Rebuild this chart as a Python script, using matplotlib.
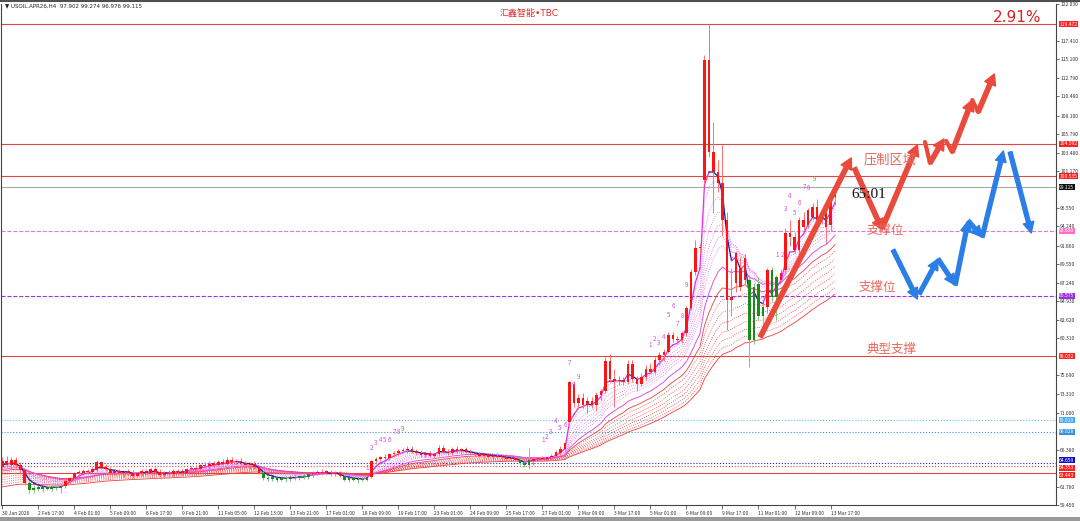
import numpy as np
import matplotlib
matplotlib.use('Agg')
import matplotlib.pyplot as plt
from matplotlib import transforms

plt.rcParams['font.family'] = ['Noto Sans CJK SC', 'DejaVu Sans']

# USOIL.APR26 H4 candles
opens = [64.2, 64.9, 64.5, 65.1, 64.4, 63.8, 62.2, 61.3, 61.6, 61.5,
         61.6, 61.5, 61.7, 61.6, 61.8, 62.4, 62.8, 63.4, 63.5, 63.7,
         63.6, 63.8, 64.8, 64.1, 64.0, 63.5, 63.7, 63.4, 63.6, 63.5,
         63.1, 63.4, 63.7, 63.5, 63.9, 63.6, 63.2, 63.5, 63.3, 63.7,
         63.6, 63.5, 63.9, 64.1, 64.0, 64.4, 64.3, 64.6, 64.5, 64.8,
         64.6, 65.1, 64.8, 65.0, 64.7, 64.4, 64.6, 64.2, 63.5, 62.8,
         62.7, 62.9, 62.6, 62.8, 62.7, 63.0, 62.8, 63.1, 62.9, 63.3,
         63.5, 63.4, 63.6, 63.5, 63.3, 63.5, 63.1, 62.6, 62.8, 62.6,
         62.7, 62.6, 62.9, 64.9, 65.2, 65.4, 65.3, 65.8, 65.9, 66.2,
         66.3, 66.5, 66.1, 66.0, 65.7, 65.9, 65.6, 65.8, 66.6, 66.1,
         65.9, 66.5, 66.2, 66.4, 66.1, 65.9, 65.8, 65.6, 65.8, 65.5,
         65.6, 65.4, 65.5, 65.2, 65.3, 65.1, 64.7, 64.4, 64.9, 65.2,
         65.3, 65.2, 65.4, 65.6, 65.9, 66.5, 69.8, 74.6, 72.2, 72.8,
         72.0, 72.4, 71.9, 73.2, 73.7, 77.4, 75.2, 74.9, 75.1, 74.8,
         77.1, 75.2, 74.6, 75.5, 76.5, 76.1, 77.5, 78.2, 78.6, 80.7,
         80.2, 80.0, 80.9, 84.0, 88.6, 91.5, 100.0, 115.0, 103.5, 101.0,
         99.7, 95.1, 85.1, 87.2, 89.1, 87.6, 87.6, 80.1, 87.0, 83.0,
         84.2, 88.8, 85.4, 87.6, 88.8, 93.4, 92.9, 91.3, 95.0, 94.4,
         95.4, 96.7, 95.05, 95.9, 94.4, 97.902]
highs = [65.4, 65.6, 65.5, 65.4, 64.8, 64.0, 62.4, 61.9, 61.9, 61.8,
         61.9, 62.0, 61.9, 62.1, 62.6, 63.0, 63.6, 63.8, 63.9, 64.0,
         64.2, 65.1, 65.0, 64.6, 64.2, 63.9, 64.0, 63.7, 64.0, 63.8,
         63.6, 63.9, 64.0, 64.1, 64.2, 63.9, 63.7, 63.8, 63.9, 64.0,
         64.0, 64.1, 64.3, 64.5, 64.6, 64.8, 64.9, 65.0, 65.1, 65.2,
         65.4, 65.5, 65.2, 65.3, 65.0, 64.8, 64.9, 64.5, 63.7, 63.1,
         63.0, 63.2, 63.0, 63.1, 63.2, 63.3, 63.2, 63.4, 63.5, 63.7,
         63.8, 63.9, 63.8, 63.8, 63.7, 63.7, 63.3, 63.0, 63.0, 62.9,
         63.0, 63.0, 65.1, 65.5, 65.6, 65.8, 66.0, 66.2, 66.4, 66.6,
         66.8, 66.8, 66.5, 66.3, 66.1, 66.2, 66.0, 66.9, 66.9, 66.4,
         66.7, 66.8, 66.6, 66.7, 66.4, 66.2, 66.1, 66.0, 66.0, 65.8,
         65.9, 65.7, 65.8, 65.6, 65.6, 65.4, 65.0, 66.6, 65.4, 65.5,
         65.6, 65.5, 65.8, 66.3, 66.8, 67.5, 75.0, 74.9, 73.3, 73.4,
         72.9, 73.0, 73.6, 74.0, 77.9, 78.3, 76.5, 75.6, 75.5, 77.6,
         77.6, 75.6, 75.9, 76.9, 77.2, 77.9, 78.6, 78.9, 81.0, 81.0,
         80.6, 81.2, 84.3, 88.9, 92.6, 92.0, 115.7, 119.47, 107.3, 102.5,
         104.4, 96.0, 89.0, 91.2, 90.4, 90.8, 88.2, 87.2, 87.9, 84.6,
         89.0, 89.2, 88.2, 88.9, 94.1, 95.0, 93.6, 95.4, 96.0, 96.6,
         97.2, 97.7, 96.2, 96.5, 98.1, 99.274]
lows = [63.8, 64.2, 64.0, 64.1, 63.5, 61.9, 61.0, 60.9, 61.2, 61.1,
        61.3, 61.2, 61.3, 60.9, 61.6, 62.2, 62.6, 63.0, 63.2, 63.3,
        63.4, 63.6, 63.9, 63.7, 63.3, 63.2, 63.3, 63.0, 63.2, 62.8,
        62.9, 63.1, 63.3, 63.3, 63.4, 62.9, 63.0, 63.1, 63.1, 63.4,
        63.2, 63.3, 63.6, 63.7, 63.8, 64.1, 64.0, 64.2, 64.3, 64.4,
        64.5, 64.6, 64.4, 64.5, 64.2, 64.0, 64.0, 63.3, 62.6, 62.4,
        62.5, 62.3, 62.4, 62.3, 62.5, 62.6, 62.6, 62.7, 62.7, 63.0,
        63.2, 63.2, 63.3, 63.1, 63.1, 62.9, 62.4, 62.3, 62.4, 62.2,
        62.4, 62.4, 62.8, 64.6, 64.9, 65.0, 65.1, 65.5, 65.6, 65.9,
        66.0, 65.9, 65.7, 65.5, 65.4, 65.5, 65.3, 65.6, 65.9, 65.7,
        65.7, 66.0, 65.8, 65.9, 65.7, 65.6, 65.4, 65.3, 65.4, 65.2,
        65.2, 65.1, 65.0, 64.9, 64.9, 64.5, 64.2, 63.9, 64.5, 64.9,
        65.0, 64.9, 65.1, 65.4, 65.7, 66.3, 69.6, 71.7, 71.4, 71.6,
        70.9, 71.6, 71.2, 72.6, 73.5, 74.8, 71.7, 74.4, 74.5, 74.6,
        74.8, 73.7, 74.3, 75.1, 75.9, 75.8, 76.9, 77.4, 78.4, 79.8,
        79.6, 79.7, 80.6, 83.8, 88.2, 90.9, 99.5, 102.9, 95.9, 98.5,
        93.0, 81.3, 83.0, 86.0, 86.2, 87.0, 76.7, 79.6, 82.6, 81.8,
        83.4, 84.8, 82.6, 87.2, 88.4, 91.8, 90.9, 90.6, 93.8, 94.1,
        95.0, 94.8, 94.6, 92.2, 93.7, 96.976]
closes = [64.9, 64.5, 65.1, 64.4, 63.8, 62.2, 61.3, 61.6, 61.5, 61.6,
          61.5, 61.7, 61.6, 61.8, 62.4, 62.8, 63.4, 63.5, 63.7, 63.6,
          64.0, 64.8, 64.1, 64.0, 63.5, 63.7, 63.4, 63.6, 63.5, 63.1,
          63.4, 63.7, 63.5, 63.9, 63.6, 63.2, 63.5, 63.3, 63.7, 63.6,
          63.5, 63.9, 64.1, 63.9, 64.4, 64.3, 64.6, 64.5, 64.8, 64.6,
          65.1, 64.8, 65.0, 64.7, 64.4, 64.6, 64.2, 63.5, 62.8, 62.7,
          62.9, 62.6, 62.8, 62.7, 63.0, 62.8, 63.1, 62.9, 63.3, 63.5,
          63.4, 63.6, 63.5, 63.3, 63.5, 63.1, 62.6, 62.8, 62.6, 62.7,
          62.6, 62.9, 64.9, 65.2, 65.4, 65.3, 65.8, 66.0, 66.2, 66.3,
          66.5, 66.1, 66.0, 65.7, 65.9, 65.6, 65.8, 66.6, 66.1, 65.9,
          66.5, 66.2, 66.4, 66.1, 65.9, 65.8, 65.6, 65.8, 65.5, 65.6,
          65.4, 65.5, 65.2, 65.3, 65.1, 64.7, 64.4, 65.1, 65.2, 65.3,
          65.2, 65.4, 65.6, 66.1, 66.5, 67.2, 74.8, 72.2, 72.8, 72.0,
          72.4, 71.9, 73.2, 73.7, 77.4, 75.2, 74.9, 75.1, 74.8, 77.1,
          75.2, 74.6, 75.5, 76.5, 76.1, 77.5, 78.2, 78.6, 80.7, 80.2,
          80.0, 80.9, 84.0, 88.6, 91.5, 91.7, 115.0, 103.5, 101.0, 99.7,
          95.1, 85.1, 85.4, 90.9, 86.7, 90.3, 80.1, 86.7, 83.0, 84.2,
          88.8, 85.4, 87.9, 88.4, 93.4, 92.9, 91.3, 95.0, 94.2, 96.3,
          96.7, 95.05, 95.9, 94.2, 97.5, 99.115]
green_bars = list(range(6, 14)) + list(range(58, 69)) + list(range(76, 82)) + \
             [115, 116, 117, 166, 167, 168, 169, 171, 172]

date_labels = ['30 Jan 2026', '2 Feb 17:00', '4 Feb 01:00', '5 Feb 09:00', '6 Feb 17:00',
               '9 Feb 21:00', '11 Feb 05:00', '12 Feb 13:00', '13 Feb 21:00', '17 Feb 01:00',
               '18 Feb 09:00', '19 Feb 17:00', '23 Feb 01:00', '24 Feb 09:00', '25 Feb 17:00',
               '27 Feb 01:00', '2 Mar 09:00', '3 Mar 17:00', '5 Mar 01:00', '6 Mar 09:00',
               '9 Mar 17:00', '11 Mar 01:00', '12 Mar 09:00', '13 Mar 17:00']
price_ticks = [122.030, 117.410, 115.100, 112.790, 110.480, 108.100, 105.790, 103.480,
               101.170, 96.550, 94.240, 91.860, 89.550, 87.240, 84.930, 82.620, 80.310,
               75.690, 73.310, 71.000, 66.380, 61.760, 59.450]

# horizontal levels
levels = [119.472, 104.592, 100.535, 99.115, 93.680, 85.575, 78.032, 70.019, 68.628, 64.659, 64.353, 63.443]
level_colors = ['#e04848', '#e04848', '#e04848', '#a8a8a8', '#e878c8', '#a030e0', '#e04848',
                '#60b8f0', '#3c90e0', '#2020d0', '#e04848', '#e04848']
level_styles = ['-', '-', '-', '-', '--', '--', '-', ':', ':', ':', ':', '-']
level_boxes = ['#ff2020', '#ff2020', '#ff2020', '#101010', '#ff70c0', '#9a30d8', '#ff2020',
               '#4aa8f0', '#3c90e0', '#1010c8', '#ff2020', '#ff2020']
# where the scale boxes sit (the three lowest are stacked on the scale)
level_box_pos = [119.472, 104.592, 100.535, 99.115, 93.680, 85.575, 78.032, 70.019, 68.628,
                 65.05, 64.10, 63.15]

# TD count labels (bar, price, text)
td_bars = [81.0, 82.1, 83.0, 84.1, 85.0, 85.9, 87.0, 87.9, 88.8,
           120.1, 121.0, 121.9, 123.0, 123.9, 125.0, 125.9, 126.8, 127.9,
           143.9, 145.0, 145.9, 147.0, 148.1, 149.0, 149.9, 151.0, 152.1,
           172.1, 173.3, 174.1, 175.0, 176.1, 177.0, 178.1, 179.0, 180.4]
td_prices = [64.1, 66.6, 67.2, 67.6, 67.6, 67.6, 68.6, 68.6, 68.9,
             67.6, 67.9, 68.6, 69.9, 69.1, 69.4, 77.2, 74.4, 75.4,
             79.4, 80.2, 79.7, 80.4, 83.2, 84.3, 82.1, 83.1, 86.9,
             90.7, 90.7, 96.4, 98.0, 95.9, 97.2, 99.2, 99.0, 100.2]
td_text = ['1', '2', '3', '4', '5', '6', '7', '8', '9'] * 4

# hand drawn forecast arrows (bar, price)
red_x0 = [168.4, 189.3, 195.5, 205.0, 206.1, 209.7, 211.0, 215.5, 216.8]
red_y0 = [80.44, 101.55, 94.05, 104.79, 102.17, 104.92, 103.54, 110.04, 108.54]
red_x1 = [188.6, 195.5, 203.3, 206.1, 209.2, 211.0, 215.5, 216.8, 220.4]
red_y1 = [102.80, 93.80, 104.42, 102.17, 105.17, 103.54, 110.04, 108.54, 113.29]
red_head = [True, True, True, False, True, False, True, False, True]
blue_x0 = [197.9, 203.7, 207.9, 211.7, 214.6, 217.7, 223.9]
blue_y0 = [91.30, 85.81, 90.18, 86.93, 94.93, 92.93, 103.54]
blue_x1 = [203.3, 207.9, 211.7, 214.6, 217.7, 222.4, 228.6]
blue_y1 = [85.18, 90.18, 86.93, 94.93, 92.93, 103.67, 93.43]


def ema(vals, period, seed):
    k = 2.0 / (period + 1)
    out = []
    prev = seed
    for v in vals:
        prev = prev + k * (v - prev)
        out.append(prev)
    return np.array(out)


n = len(closes)
idx = np.arange(n)
o = np.array(opens); h = np.array(highs); l = np.array(lows); c = np.array(closes)

fig = plt.figure(figsize=(10.8, 5.21), dpi=100)
ax = fig.add_axes([1/1080, 16/521, 1055/1080, 501/521])
ax.set_xlim(-0.3, 234.1)
ax.set_ylim(59.45, 122.03)

# level lines
for p, col, ls in zip(levels, level_colors, level_styles):
    ax.axhline(p, color=col, ls=ls, lw=0.8, zorder=1)

# slow red ribbon
red_periods = [26, 30, 35, 40, 45, 50, 55, 60]
red_seeds = [63.6, 63.4, 63.1, 62.8, 62.5, 62.2, 61.9, 61.6]
for k, (per, sd) in enumerate(zip(red_periods, red_seeds)):
    ls = '-' if k in (0, len(red_periods) - 1) else ':'
    ax.plot(idx, ema(c, per, sd), color='#ec4040', lw=0.6, ls=ls, zorder=2)

# fast pink ribbon
pink_periods = [5, 7, 9, 11, 13, 15]
for per in pink_periods:
    ax.plot(idx, ema(c, per, 64.0), color='#e070e8', lw=0.6, ls=':', zorder=2)
ax.plot(idx, ema(c, 20, 63.8), color='#e050e0', lw=0.7, zorder=2)

# fast line, navy while falling
fast = ema(c, 4, 64.3)
for i in range(1, n):
    col = '#1c1ca0' if fast[i] < fast[i - 1] else '#e030e0'
    ax.plot([i - 1, i], [fast[i - 1], fast[i]], color=col, lw=0.9, zorder=3)

# candles
for i in range(n):
    if i in green_bars:
        body, wick = '#1a8a1a', '#7cc87c'
    else:
        body, wick = '#ff1414', '#ff7070'
    ax.vlines(i, l[i], h[i], color=wick, lw=0.7, zorder=4)
    bot = min(o[i], c[i])
    ht = max(abs(c[i] - o[i]), 0.15)
    ax.bar(i, ht, bottom=bot, width=0.62, color=body, lw=0, zorder=5)

# TD numbers
for x, y, t in zip(td_bars, td_prices, td_text):
    col = '#40c040' if t == '9' else '#d050e0'
    ax.text(x, y, t, fontsize=4.5, color=col, ha='center', va='center', zorder=6)

# forecast arrows
for x0, y0, x1, y1, hd in zip(red_x0, red_y0, red_x1, red_y1, red_head):
    if hd:
        ax.annotate('', xy=(x1, y1), xytext=(x0, y0),
                    arrowprops=dict(arrowstyle='simple,head_length=0.55,head_width=0.6,tail_width=0.22',
                                    color='#ea4a3c', shrinkA=0, shrinkB=0, mutation_scale=14), zorder=7)
    else:
        ax.plot([x0, x1], [y0, y1], color='#ea4a3c', lw=3, solid_capstyle='round', zorder=7)
for x0, y0, x1, y1 in zip(blue_x0, blue_y0, blue_x1, blue_y1):
    ax.annotate('', xy=(x1, y1), xytext=(x0, y0),
                arrowprops=dict(arrowstyle='simple,head_length=0.55,head_width=0.55,tail_width=0.2',
                                color='#2a7ee6', shrinkA=0, shrinkB=0, mutation_scale=14), zorder=7)

# zone labels
ax.text(191.3, 102.55, '压制区域', fontsize=9.5, color='#e8685c', va='center', zorder=8)
ax.text(192.0, 93.75, '支撑位', fontsize=9, color='#e8685c', va='center', zorder=8)
ax.text(190.2, 86.6, '支撑位', fontsize=9, color='#e8685c', va='center', zorder=8)
ax.text(192.0, 78.85, '典型支撑', fontsize=9, color='#e8685c', va='center', zorder=8)
ax.text(188.7, 98.2, '65:01', fontsize=11, color='#111111', family='Liberation Serif',
        va='center', zorder=8)

# axes styling
for s in ['left', 'bottom', 'right']:
    ax.spines[s].set_color('#444444')
    ax.spines[s].set_linewidth(0.8)
ax.spines['top'].set_visible(False)
ax.yaxis.tick_right()
ax.set_yticks(price_ticks)
ax.set_yticklabels(['{:.3f}'.format(p) for p in price_ticks])
ax.tick_params(axis='y', labelsize=3.6, length=2, width=0.5, pad=1, colors='#333333')
ax.set_xticks(np.arange(0, 8 * len(date_labels), 8))
ax.set_xticklabels(date_labels)
ax.tick_params(axis='x', labelsize=3.6, length=3, width=0.5, pad=1, colors='#333333')
for lab in ax.get_xticklabels():
    lab.set_ha('left')

# price boxes on the scale
trans = transforms.blended_transform_factory(ax.transAxes, ax.transData)
for p, yp, bc in zip(levels, level_box_pos, level_boxes):
    ax.text(1.003, yp, '{:.3f}'.format(p), transform=trans, fontsize=3.6, color='white',
            ha='left', va='center', clip_on=False, zorder=9,
            bbox=dict(boxstyle='square,pad=0.1', fc=bc, ec='none'))

# header texts
fig.text(5/1080, 1 - 6/521, '▼ USOIL.APR26,H4  97.902 99.274 96.976 99.115', fontsize=4,
         color='#222222', va='center', family='DejaVu Sans')
fig.text(529/1080, 1 - 13/521, '汇鑫智能•TBC', fontsize=6.5, color='#e03030', ha='center', va='center',
         family=['DejaVu Sans', 'Noto Sans CJK SC'])
fig.text(1017/1080, 1 - 18/521, '2.91%', fontsize=11, color='#e02020', ha='center', va='center',
         family='DejaVu Sans')

# window frame
fig.add_artist(plt.Line2D([0, 1], [0.998, 0.998], color='#505050', lw=1.5))
fig.add_artist(plt.Rectangle((0, 0), 1, 4/521, color='#9a9a9a', lw=0))

fig.savefig('out.png', dpi=100)
